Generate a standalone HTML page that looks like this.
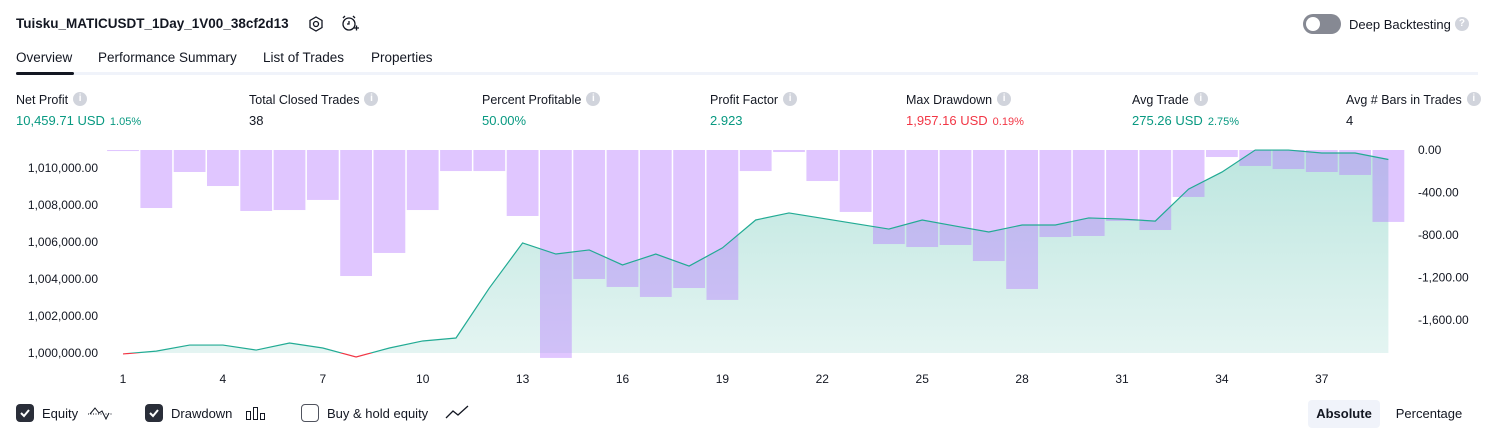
<!DOCTYPE html>
<html><head><meta charset="utf-8">
<style>
*{margin:0;padding:0;box-sizing:border-box}
body{width:1494px;height:438px;background:#fff;font-family:"Liberation Sans",sans-serif;color:#131722;position:relative;overflow:hidden}
.a{position:absolute;white-space:nowrap}
.info{display:inline-block;width:14px;height:14px;border-radius:50%;background:#d1d4dc;color:#fff;font-size:10px;font-weight:bold;text-align:center;line-height:14px;vertical-align:middle;margin-left:5px;margin-top:-3px}
.lbl{font-size:12.5px;color:#131722;height:16px}
.val{font-size:13px}
.g{color:#089981}.r{color:#f23645}
.pct{font-size:11px;margin-left:5px}
.cb{position:absolute;top:404px;width:18px;height:18px;border-radius:4px}
</style></head><body>
<div class="a" style="left:16px;top:16px;font-size:13.5px;font-weight:bold">Tuisku_MATICUSDT_1Day_1V00_38cf2d13</div>
<svg class="a" style="left:307px;top:15px" width="18" height="18"><polygon points="9,2 15,5.5 15,12.5 9,16 3,12.5 3,5.5" fill="none" stroke="#131722" stroke-width="1.3"/><circle cx="9" cy="9" r="2.5" fill="none" stroke="#131722" stroke-width="1.3"/></svg>
<svg class="a" style="left:340px;top:14px" width="20" height="20"><circle cx="9" cy="10" r="6" fill="none" stroke="#131722" stroke-width="1.3"/><path d="M9 7v3h-2M3 4l2-2M15 4l-2-2M14 14h5M16.5 11.5v5" stroke="#131722" stroke-width="1.3" fill="none"/></svg>
<div class="a" style="left:1303px;top:14px;width:38px;height:20px;border-radius:10px;background:#868993"><div style="position:absolute;left:3px;top:3px;width:14px;height:14px;border-radius:50%;background:#fff"></div></div>
<div class="a" style="left:1349px;top:17px;font-size:13px">Deep Backtesting<span class="info" style="margin-left:4px">?</span></div>
<div class="a" style="left:16px;top:50px;font-size:13.5px">Overview</div>
<div class="a" style="left:98px;top:50px;font-size:13.5px">Performance Summary</div>
<div class="a" style="left:263px;top:50px;font-size:13.5px">List of Trades</div>
<div class="a" style="left:371px;top:50px;font-size:13.5px">Properties</div>
<div class="a" style="left:16px;top:72px;width:1462px;height:3px;background:#f0f3fa"></div>
<div class="a" style="left:16px;top:72px;width:58px;height:3px;background:#131722;border-radius:2px"></div>

<div class="a" style="left:16px;top:93px"><div class="lbl">Net Profit<span class="info">i</span></div><div class="val g" style="margin-top:4px">10,459.71 USD<span class="pct">1.05%</span></div></div>
<div class="a" style="left:249px;top:93px"><div class="lbl">Total Closed Trades<span class="info">i</span></div><div class="val" style="margin-top:4px">38</div></div>
<div class="a" style="left:482px;top:93px"><div class="lbl">Percent Profitable<span class="info">i</span></div><div class="val g" style="margin-top:4px">50.00%</div></div>
<div class="a" style="left:710px;top:93px"><div class="lbl">Profit Factor<span class="info">i</span></div><div class="val g" style="margin-top:4px">2.923</div></div>
<div class="a" style="left:906px;top:93px"><div class="lbl">Max Drawdown<span class="info">i</span></div><div class="val r" style="margin-top:4px">1,957.16 USD<span class="pct">0.19%</span></div></div>
<div class="a" style="left:1132px;top:93px"><div class="lbl">Avg Trade<span class="info">i</span></div><div class="val g" style="margin-top:4px">275.26 USD<span class="pct">2.75%</span></div></div>
<div class="a" style="left:1346px;top:93px"><div class="lbl">Avg # Bars in Trades<span class="info">i</span></div><div class="val" style="margin-top:4px;color:#131722">4</div></div>

<svg id="chart" class="a" style="left:0;top:140px" width="1494" height="250"></svg>

<div class="cb" style="left:16px;background:#2a2e39"><svg width="18" height="18"><path d="M5 9l3 3 5-6" stroke="#fff" stroke-width="2" fill="none"/></svg></div>
<div class="a" style="left:42px;top:406px;font-size:13px">Equity</div>
<svg class="a" style="left:87px;top:403px" width="26" height="18"><path d="M1 11h24" stroke="#131722" stroke-dasharray="1 1.5"/><path d="M3 11l5-6 4 5 3-2 4 8 3-6" stroke="#131722" fill="none"/></svg>
<div class="cb" style="left:145px;background:#2a2e39"><svg width="18" height="18"><path d="M5 9l3 3 5-6" stroke="#fff" stroke-width="2" fill="none"/></svg></div>
<div class="a" style="left:171px;top:406px;font-size:13px">Drawdown</div>
<svg class="a" style="left:245px;top:405px" width="22" height="16"><rect x="1.5" y="6.5" width="4" height="8" fill="none" stroke="#131722"/><rect x="8.5" y="2.5" width="4" height="12" fill="none" stroke="#131722"/><rect x="15.5" y="8.5" width="4" height="6" fill="none" stroke="#131722"/></svg>
<div class="cb" style="left:301px;border:1.5px solid #50535e"></div>
<div class="a" style="left:327px;top:406px;font-size:13px">Buy &amp; hold equity</div>
<svg class="a" style="left:445px;top:404px" width="24" height="16"><path d="M1 14l7-7 5 4 10-9" stroke="#131722" stroke-width="1.3" fill="none"/></svg>
<div class="a" style="left:1308px;top:400px;width:72px;height:28px;border-radius:4px;background:#f0f3fa;font-size:13px;font-weight:bold;text-align:center;line-height:28px">Absolute</div>
<div class="a" style="left:1386px;top:400px;width:86px;height:28px;font-size:13px;text-align:center;line-height:28px">Percentage</div>

<script>
const trades = [];
for (let i = 1; i <= 39; i++) trades.push(i);
const equity = [999950,1000100,1000430,1000430,1000160,1000540,1000270,999784,1000270,1000650,1000810,1003510,1005950,1005350,1005570,1004760,1005350,1004700,1005680,1007190,1007570,1007280,1006990,1006700,1007190,1006860,1006540,1006920,1006920,1007300,1007240,1007130,1008860,1009780,1010970,1010970,1010810,1010810,1010460];
const drawdown = [-10,-546,-207,-339,-574,-565,-470,-1186,-969,-565,-198,-198,-621,-1957,-1214,-1289,-1383,-1299,-1411,-198,-19,-292,-583,-885,-913,-894,-1045,-1308,-819,-809,-668,-753,-442,-66,-150,-179,-207,-235,-677];
const equityTicks = [1000000,1002000,1004000,1006000,1008000,1010000];
const ddTicks = [0,-400,-800,-1200,-1600];
const xTicks = [1,4,7,10,13,16,19,22,25,28,31,34,37];
const initial = 1000000;

const svg = document.getElementById('chart');
const NS = 'http://www.w3.org/2000/svg';
const OY = 140;
const x = i => 123 + (i - 1) * 33.3;
const yE = v => 353 - OY - (v - initial) / 2000 * 37;
const yD = v => 150 - OY - v / 400 * 42.5;
function mk(tag, attrs, parent) { const e = document.createElementNS(NS, tag); for (const k in attrs) e.setAttribute(k, attrs[k]); (parent || svg).appendChild(e); return e; }

const defs = mk('defs', {});
const grad = mk('linearGradient', {id: 'eqg', x1: 0, y1: 0, x2: 0, y2: 1}, defs);
mk('stop', {offset: 0, 'stop-color': '#22ab94', 'stop-opacity': 0.3}, grad);
mk('stop', {offset: 1, 'stop-color': '#22ab94', 'stop-opacity': 0.12}, grad);
const cpA = mk('clipPath', {id: 'above'}, defs); mk('rect', {x: 0, y: 0, width: 1494, height: yE(initial)}, cpA);
const cpB = mk('clipPath', {id: 'below'}, defs); mk('rect', {x: 0, y: yE(initial), width: 1494, height: 100}, cpB);

const pts = trades.map((t, k) => x(t) + ',' + yE(equity[k])).join(' ');
const area = mk('polygon', {points: x(trades[0]) + ',' + yE(initial) + ' ' + pts + ' ' + x(trades[trades.length - 1]) + ',' + yE(initial), fill: 'url(#eqg)', 'clip-path': 'url(#above)'});



drawdown.forEach((v, k) => {
  const b = mk('rect', {x: x(trades[k]) - 15.9, y: yD(0), width: 31.8, height: Math.max(1, yD(v) - yD(0)), fill: 'rgba(180,120,255,0.42)'});
  
  
});

const l1 = mk('polyline', {points: pts, fill: 'none', stroke: '#22ab94', 'stroke-width': 1.2, 'clip-path': 'url(#above)'});


const l2 = mk('polyline', {points: pts, fill: 'none', stroke: '#f23645', 'stroke-width': 1.2, 'clip-path': 'url(#below)'});



const tstyle = {'font-family': 'Liberation Sans, sans-serif', 'font-size': 12, fill: '#131722'};
equityTicks.forEach(v => {
  const t = mk('text', Object.assign({x: 98, y: yE(v) + 4, 'text-anchor': 'end'}, tstyle));
  t.textContent = v.toLocaleString('en-US', {minimumFractionDigits: 2});
  
  
});
ddTicks.forEach(v => {
  const t = mk('text', Object.assign({x: 1418, y: yD(v) + 4}, tstyle));
  t.textContent = v.toLocaleString('en-US', {minimumFractionDigits: 2});
  
  
});
xTicks.forEach(v => {
  const t = mk('text', Object.assign({x: x(v), y: 243, 'text-anchor': 'middle'}, tstyle));
  t.textContent = v;
  
  
});
</script>
</body></html>
